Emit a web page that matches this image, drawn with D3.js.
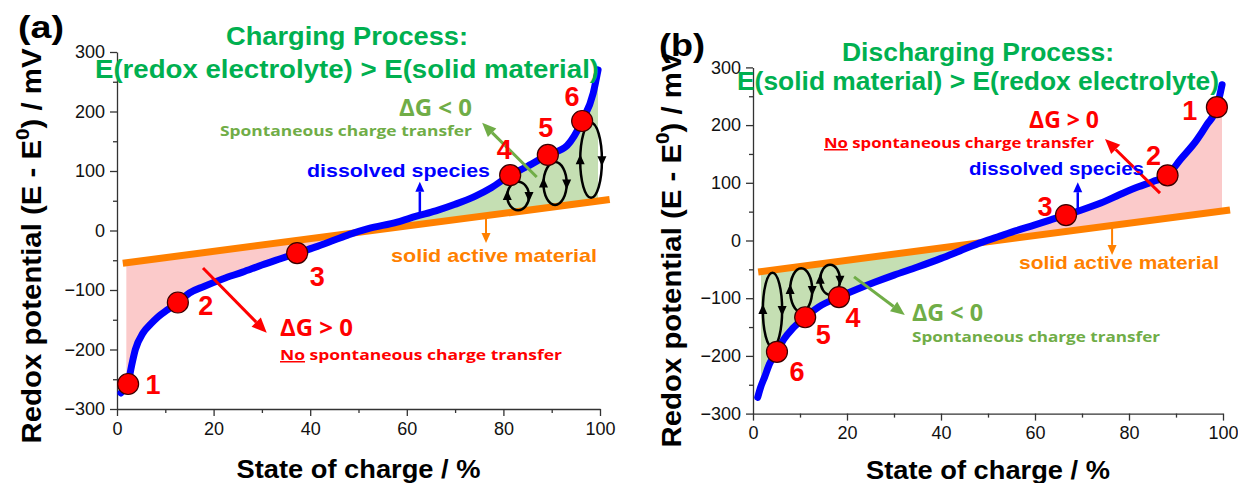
<!DOCTYPE html>
<html>
<head>
<meta charset="utf-8">
<script src="https://cdn.jsdelivr.net/npm/d3@7"></script>
<style>
  body { margin: 0; background: #fff; }
  svg { display: block; }
  text { font-family: "Liberation Sans", Arial, sans-serif; }
</style>
</head>
<body>
<svg id="chart" width="1238" height="483"></svg>
<script>
// axis ticks
const xTickValues = [0, 20, 40, 60, 80, 100];
const xMinorValues = [10, 30, 50, 70, 90];
const yTickValues = [-300, -200, -100, 0, 100, 200, 300];
const yMinorValues = [-250, -150, -50, 50, 150, 250];

// (a) charging: dissolved species curve
const socA = [0.8, 1.5, 2.3, 3.0, 3.8, 5.4, 7, 8.5, 10.5, 12.6, 15, 18, 22, 26, 30, 34, 37.3, 41, 45, 48, 52, 58, 62, 66, 70, 74, 77.5, 81.4, 85, 89.2, 93.2, 96.3, 98.6, 99.6];
const potA = [-273, -266, -256, -228, -200, -172, -157, -145, -133, -121, -105, -94, -81, -70, -58, -47, -38, -28, -16, -7, 3, 14, 24, 33, 44, 57, 72, 93, 108, 127, 143, 184, 231, 270];
// (a) solid active material
const solidSocA = [1.2, 102];
const solidPotA = [-55, 52];
// (a) numbered states
const stepSocA = [2.3, 12.6, 37.3, 81.4, 89.2, 96.3];
const stepPotA = [-258, -121, -38, 93, 127, 184];
// (a) charge-transfer cycles (soc range, potential range)
const loopSocA = [[80.8, 85.3], [88.3, 93.1], [95.9, 100.4]];
const loopPotA = [[34, 82], [43, 115], [55, 181]];

// (b) discharging: dissolved species curve
const socB = [1, 1.6, 2.5, 3.5, 5.1, 6.5, 8.5, 11.1, 14, 18.3, 22, 26, 30, 35, 40, 44, 48, 52, 56, 60, 63, 66.6, 69.6, 74, 78.7, 82, 85, 88.2, 90.9, 94.4, 96.5, 98.7, 99.8];
const potB = [-272, -255, -236, -214, -193, -172, -152, -133, -115, -98, -85, -72, -60, -46, -31, -18, -5, 6, 17, 27, 35, 44, 52, 65, 82, 93, 102, 113, 140, 174, 200, 231, 270];
const solidSocB = [1.1, 101.5];
const solidPotB = [-54.6, 53];
const stepSocB = [98.7, 88.2, 66.6, 18.3, 11.1, 5.1];
const stepPotB = [231, 113, 44, -98, -133, -193];
const loopSocB = [[14.3, 18.5], [7.9, 12.6], [2.1, 6.2]];
const loopPotB = [[-94, -42], [-124, -48], [-185, -56]];

const stepLabels = ["1", "2", "3", "4", "5", "6"];

const BLUE = "#0000ff", ORANGE = "#ff8000", RED = "#ff0000",
      TITLE_GREEN = "#00b050", OLIVE = "#70ad47",
      PINK = "#fbcaca", LIGHT_GREEN = "#c5dfb3";
const CALIBRI = "'Open Sans', Lato, sans-serif";

const svg = d3.select("#chart");

var drawArrow = function(g, x1, y1, x2, y2, color, width, headLen, headWidth) {
    const dx = x2 - x1, dy = y2 - y1, len = Math.hypot(dx, dy);
    const ux = dx / len, uy = dy / len;
    const bx = x2 - ux * headLen, by = y2 - uy * headLen;
    g.append("line")
        .attr("x1", x1).attr("y1", y1).attr("x2", bx).attr("y2", by)
        .attr("stroke", color).attr("stroke-width", width);
    g.append("polygon")
        .attr("points", [[x2, y2], [bx - uy * headWidth / 2, by + ux * headWidth / 2], [bx + uy * headWidth / 2, by - ux * headWidth / 2]].join(" "))
        .attr("fill", color);
};

var addText = function(g, t) {
    const el = g.append("text")
        .attr("x", t.x).attr("y", t.y)
        .attr("text-anchor", t.anchor || "middle")
        .style("font-weight", "bold")
        .style("font-size", t.size + "px")
        .style("fill", t.color);
    if (t.family) el.style("font-family", t.family);
    if (t.len) el.attr("textLength", t.len).attr("lengthAdjust", "spacingAndGlyphs");
    if (t.underline) {
        el.append("tspan").style("text-decoration", "underline").text(t.underline);
        el.append("tspan").text(t.text);
    } else {
        el.text(t.text);
    }
    return el;
};

var drawPanel = function(p) {
    const g = svg.append("g");
    const x = d3.scaleLinear().domain([0, 100]).range([p.left, p.right]);
    const y = d3.scaleLinear().domain([-300, 300]).range([p.bottom, p.top]);

    const curveAt = d3.scaleLinear().domain(p.soc).range(p.pot);
    const solidAt = d3.scaleLinear().domain(p.solidSoc).range(p.solidPot);

    // shaded regions between the two potentials
    const fillSoc = [p.fillFrom].concat(p.soc.filter((s) => s > p.fillFrom && s < p.fillTo), [p.fillTo]);
    let cross = 50;
    for (let i = 1; i < fillSoc.length; i++) {
        const a = curveAt(fillSoc[i - 1]) - solidAt(fillSoc[i - 1]);
        const b = curveAt(fillSoc[i]) - solidAt(fillSoc[i]);
        if (a <= 0 && b > 0) { cross = fillSoc[i - 1] + (fillSoc[i] - fillSoc[i - 1]) * (-a) / (b - a); break; }
    }
    const area = d3.area()
        .x((s) => x(s))
        .y0((s) => y(solidAt(s)))
        .y1((s) => y(curveAt(s)));
    const defs = g.append("defs");
    [["L", p.fillFrom, cross], ["R", cross, p.fillTo]].forEach(([k, s0, s1]) => {
        defs.append("clipPath").attr("id", p.id + k)
            .append("rect")
            .attr("x", x(s0)).attr("width", x(s1) - x(s0))
            .attr("y", 0).attr("height", 483);
    });
    g.append("path").datum(fillSoc).attr("d", area)
        .attr("fill", p.leftFill).attr("clip-path", `url(#${p.id}L)`);
    g.append("path").datum(fillSoc).attr("d", area)
        .attr("fill", p.rightFill).attr("clip-path", `url(#${p.id}R)`);

    // axes
    g.append("g").attr("transform", `translate(0,${p.bottom})`)
        .call(d3.axisBottom(x).tickValues(xTickValues).tickSize(7).tickSizeOuter(0).tickPadding(6));
    g.append("g").attr("transform", `translate(0,${p.bottom})`)
        .call(d3.axisBottom(x).tickValues(xMinorValues).tickSize(4).tickFormat(""))
        .select(".domain").remove();
    g.append("g").attr("transform", `translate(${p.left},0)`)
        .call(d3.axisLeft(y).tickValues(yTickValues).tickSize(7).tickSizeOuter(0).tickPadding(5));
    g.append("g").attr("transform", `translate(${p.left},0)`)
        .call(d3.axisLeft(y).tickValues(yMinorValues).tickSize(4).tickFormat(""))
        .select(".domain").remove();
    g.selectAll(".domain, .tick line").attr("stroke", "#333").attr("stroke-width", 1.3);
    g.selectAll(".tick text")
        .style("font-family", "'Liberation Sans', Arial, sans-serif")
        .style("font-size", "18px").attr("fill", "#111");

    // solid active material line
    g.append("path")
        .datum(p.solidSoc.map((s, i) => [s, p.solidPot[i]]))
        .attr("d", d3.line().x((d) => x(d[0])).y((d) => y(d[1])))
        .attr("stroke", ORANGE).attr("stroke-width", 7).attr("fill", "none");

    // dissolved species curve
    g.append("path")
        .datum(p.soc.map((s, i) => [s, p.pot[i]]))
        .attr("d", d3.line().x((d) => x(d[0])).y((d) => y(d[1])).curve(d3.curveMonotoneX))
        .attr("stroke", BLUE).attr("stroke-width", 7).attr("fill", "none")
        .attr("stroke-linecap", "round").attr("stroke-linejoin", "round");

    // charge transfer cycles
    p.loopSoc.forEach((ls, i) => {
        const lp = p.loopPot[i];
        const cx = (x(ls[0]) + x(ls[1])) / 2, rx = (x(ls[1]) - x(ls[0])) / 2;
        const cy = (y(lp[0]) + y(lp[1])) / 2, ry = Math.abs(y(lp[1]) - y(lp[0])) / 2;
        g.append("ellipse")
            .attr("cx", cx).attr("cy", cy).attr("rx", rx).attr("ry", ry)
            .attr("fill", "none").attr("stroke", "#000").attr("stroke-width", 2.5);
        g.append("polygon")
            .attr("points", [[cx - rx, cy - 6], [cx - rx - 4.5, cy + 4], [cx - rx + 4.5, cy + 4]].join(" "))
            .attr("fill", "#000");
        g.append("polygon")
            .attr("points", [[cx + rx, cy + 6], [cx + rx - 4.5, cy - 4], [cx + rx + 4.5, cy - 4]].join(" "))
            .attr("fill", "#000");
    });

    // annotation arrows
    p.arrows.forEach((a) => drawArrow(g, x(a.from[0]), y(a.from[1]), x(a.to[0]), y(a.to[1]), a.color, a.width, a.head, a.headW));

    // numbered states
    g.append("g").selectAll("circle")
        .data(p.stepSoc)
        .enter()
        .append("circle")
        .attr("cx", (s) => x(s))
        .attr("cy", (s, i) => y(p.stepPot[i]))
        .attr("r", 10.5)
        .attr("fill", RED).attr("stroke", "#3a0000").attr("stroke-width", 1.2);
    g.append("g").selectAll("text")
        .data(stepLabels)
        .enter()
        .append("text")
        .attr("x", (d, i) => x(p.stepSoc[i]) + p.labelOffsets[i][0])
        .attr("y", (d, i) => y(p.stepPot[i]) + p.labelOffsets[i][1])
        .attr("text-anchor", "middle")
        .attr("dominant-baseline", "central")
        .style("font-weight", "bold").style("font-size", "27px")
        .style("fill", RED)
        .text((d) => d);

    // texts
    p.texts.forEach((t) => addText(g, t));

    // axis titles
    addText(g, {x: (p.left + p.right) / 2, y: p.xTitleY, text: "State of charge / %", size: 25, color: "#000", len: 244});
    const yt = g.append("text")
        .attr("transform", `translate(${p.yTitleX},${p.yTitleY}) rotate(-90)`)
        .attr("text-anchor", "middle")
        .attr("dominant-baseline", "central")
        .attr("textLength", 395).attr("lengthAdjust", "spacingAndGlyphs")
        .style("font-weight", "bold").style("font-size", "27px");
    yt.append("tspan").text("Redox potential (E - E");
    yt.append("tspan").attr("dy", -10).style("font-size", "19px").text("0");
    yt.append("tspan").attr("dy", 10).text(") / mV");

    addText(g, {x: p.tagX, y: p.tagY, text: p.tag, size: 32, color: "#000", anchor: "start", len: 46});
};

drawPanel({
    id: "pa", tag: "(a)", tagX: 18, tagY: 38,
    left: 117, right: 600, top: 52, bottom: 409,
    soc: socA, pot: potA, solidSoc: solidSocA, solidPot: solidPotA,
    stepSoc: stepSocA, stepPot: stepPotA,
    labelOffsets: [[25, 1], [28, 4], [20, 24], [-6, -25], [-2, -27], [-10, -24]],
    loopSoc: loopSocA, loopPot: loopPotA,
    fillFrom: 1.9, fillTo: 99.6, leftFill: PINK, rightFill: LIGHT_GREEN,
    xTitleY: 478, yTitleX: 32, yTitleY: 246,
    arrows: [
        {from: [62.7, 26], to: [62.7, 82], color: BLUE, width: 2.5, head: 10, headW: 9},
        {from: [76.4, 25], to: [76.4, -21], color: ORANGE, width: 2, head: 10, headW: 9},
        {from: [17.8, -63], to: [31, -172], color: RED, width: 3, head: 15, headW: 13},
        {from: [86.9, 90], to: [75.6, 181], color: OLIVE, width: 3, head: 14, headW: 12}
    ],
    texts: [
        {x: 347, y: 45, text: "Charging Process:", size: 25, color: TITLE_GREEN, len: 242},
        {x: 347, y: 78, text: "E(redox electrolyte) > E(solid material)", size: 25, color: TITLE_GREEN, len: 504},
        {x: 399, y: 116, text: "ΔG < 0", size: 23, color: OLIVE, anchor: "start", len: 73, family: CALIBRI},
        {x: 220, y: 136, text: "Spontaneous charge transfer", size: 15, color: OLIVE, anchor: "start", len: 252, family: CALIBRI},
        {x: 307, y: 177, text: "dissolved species", size: 19, color: BLUE, anchor: "start", len: 183},
        {x: 391, y: 262, text: "solid active material", size: 19, color: ORANGE, anchor: "start", len: 206},
        {x: 280, y: 336, text: "ΔG > 0", size: 23, color: RED, anchor: "start", len: 73, family: CALIBRI},
        {x: 280, y: 360, underline: "No", text: " spontaneous charge transfer", size: 15, color: RED, anchor: "start", len: 282, family: CALIBRI}
    ]
});

drawPanel({
    id: "pb", tag: "(b)", tagX: 659, tagY: 56,
    left: 753, right: 1223, top: 67.4, bottom: 413.6,
    soc: socB, pot: potB, solidSoc: solidSocB, solidPot: solidPotB,
    stepSoc: stepSocB, stepPot: stepPotB,
    labelOffsets: [[-27, 4], [-14, -19], [-21, -8], [14, 21], [18, 18], [20, 20]],
    loopSoc: loopSocB, loopPot: loopPotB,
    fillFrom: 1.7, fillTo: 99.8, leftFill: LIGHT_GREEN, rightFill: PINK,
    xTitleY: 479, yTitleX: 672, yTitleY: 250,
    arrows: [
        {from: [69.1, 50], to: [69.1, 101], color: BLUE, width: 2.5, head: 10, headW: 9},
        {from: [76.4, 26], to: [76.4, -25], color: ORANGE, width: 2, head: 10, headW: 9},
        {from: [86.6, 82], to: [74.9, 176], color: RED, width: 3, head: 15, headW: 13},
        {from: [21.5, -63], to: [32.3, -129], color: OLIVE, width: 3, head: 14, headW: 12}
    ],
    texts: [
        {x: 978, y: 61, text: "Discharging Process:", size: 25, color: TITLE_GREEN, len: 272},
        {x: 978, y: 90, text: "E(solid material) > E(redox electrolyte)", size: 25, color: TITLE_GREEN, len: 482},
        {x: 1029, y: 128, text: "ΔG > 0", size: 23, color: RED, anchor: "start", len: 70, family: CALIBRI},
        {x: 824, y: 148, underline: "No", text: " spontaneous charge transfer", size: 15, color: RED, anchor: "start", len: 270, family: CALIBRI},
        {x: 969, y: 175, text: "dissolved species", size: 19, color: BLUE, anchor: "start", len: 175},
        {x: 1019, y: 269, text: "solid active material", size: 19, color: ORANGE, anchor: "start", len: 200},
        {x: 912, y: 321, text: "ΔG < 0", size: 23, color: OLIVE, anchor: "start", len: 71, family: CALIBRI},
        {x: 912, y: 342, text: "Spontaneous charge transfer", size: 15, color: OLIVE, anchor: "start", len: 248, family: CALIBRI}
    ]
});
</script>
</body>
</html>
